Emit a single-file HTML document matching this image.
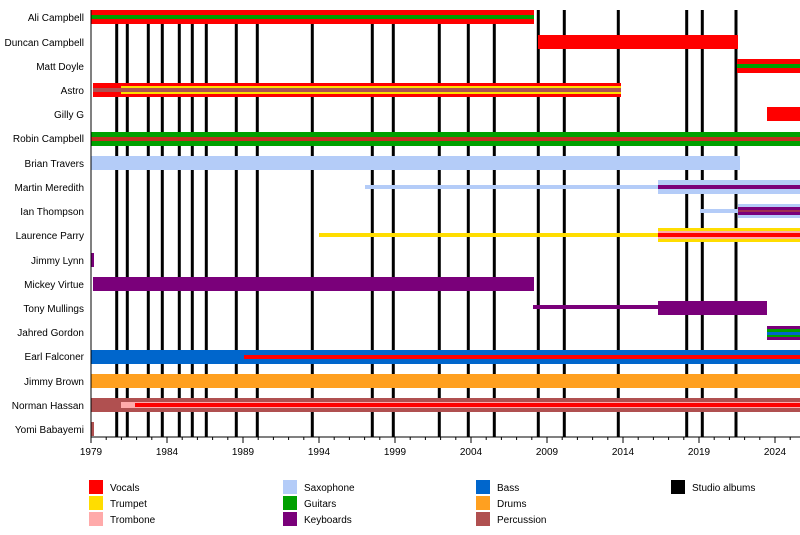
<!DOCTYPE html>
<html><head><meta charset="utf-8"><style>
html,body{margin:0;padding:0;background:#fff}
svg{display:block;font-family:"Liberation Sans",Arial,sans-serif}
</style></head><body>
<svg width="800" height="535" viewBox="0 0 800 535" xmlns="http://www.w3.org/2000/svg">
<g stroke="#000" stroke-width="3">
<line x1="116.7" y1="10" x2="116.7" y2="437"/><line x1="127.3" y1="10" x2="127.3" y2="437"/>
<line x1="148.3" y1="10" x2="148.3" y2="437"/><line x1="162.3" y1="10" x2="162.3" y2="437"/>
<line x1="179.3" y1="10" x2="179.3" y2="437"/><line x1="192.3" y1="10" x2="192.3" y2="437"/>
<line x1="206.3" y1="10" x2="206.3" y2="437"/><line x1="236.3" y1="10" x2="236.3" y2="437"/>
<line x1="257.3" y1="10" x2="257.3" y2="437"/><line x1="312.3" y1="10" x2="312.3" y2="437"/>
<line x1="372.3" y1="10" x2="372.3" y2="437"/><line x1="393.3" y1="10" x2="393.3" y2="437"/>
<line x1="439.3" y1="10" x2="439.3" y2="437"/><line x1="468.3" y1="10" x2="468.3" y2="437"/>
<line x1="494.3" y1="10" x2="494.3" y2="437"/><line x1="538.3" y1="10" x2="538.3" y2="437"/>
<line x1="564.3" y1="10" x2="564.3" y2="437"/><line x1="618.3" y1="10" x2="618.3" y2="437"/>
<line x1="686.7" y1="10" x2="686.7" y2="437"/><line x1="702.3" y1="10" x2="702.3" y2="437"/>
<line x1="736" y1="10" x2="736" y2="437"/>
</g>
<rect x="91" y="10" width="443" height="14" fill="#f00"/><rect x="91" y="15" width="443" height="4" fill="#00a000"/>
<rect x="538" y="35" width="200" height="14" fill="#f00"/>
<rect x="737" y="59" width="63" height="14" fill="#f00"/><rect x="737" y="64" width="63" height="4" fill="#00a000"/>
<rect x="93" y="83" width="528" height="14" fill="#f00"/>
<rect x="93" y="88" width="28" height="4" fill="#b05050"/>
<rect x="121" y="86" width="500" height="8" fill="#ffdd00"/><rect x="121" y="88" width="500" height="4" fill="#b05050"/>
<rect x="767" y="107" width="33" height="14" fill="#f00"/>
<rect x="91" y="132" width="709" height="14" fill="#00a000"/><rect x="91" y="137" width="709" height="4" fill="#c03020"/>
<rect x="91" y="156" width="649" height="14" fill="#b4ccf8"/>
<rect x="365" y="185" width="293" height="4" fill="#b4ccf8"/>
<rect x="658" y="180" width="142" height="14" fill="#b4ccf8"/><rect x="658" y="185" width="142" height="4" fill="#7a007a"/>
<rect x="700" y="209" width="38" height="4" fill="#b4ccf8"/>
<rect x="738" y="204" width="62" height="14" fill="#b4ccf8"/><rect x="738" y="207" width="62" height="8" fill="#7a007a"/><rect x="738" y="210" width="62" height="2" fill="#a03050"/>
<rect x="319" y="233" width="339" height="4" fill="#ffdd00"/>
<rect x="658" y="228" width="142" height="14" fill="#ffdd00"/><rect x="658" y="231" width="142" height="8" fill="#ffaaaa"/><rect x="658" y="233" width="142" height="4" fill="#f00"/>
<rect x="91" y="253" width="3" height="14" fill="#7a007a"/>
<rect x="93" y="277" width="441" height="14" fill="#7a007a"/>
<rect x="533" y="305" width="125" height="4" fill="#7a007a"/>
<rect x="658" y="301" width="109" height="14" fill="#7a007a"/>
<rect x="767" y="326" width="33" height="14" fill="#7a007a"/><rect x="767" y="329" width="33" height="3" fill="#00a000"/><rect x="767" y="332" width="33" height="3" fill="#0066cc"/><rect x="767" y="335" width="33" height="2" fill="#00a000"/>
<rect x="91" y="350" width="709" height="14" fill="#0066cc"/><rect x="244" y="355" width="556" height="4" fill="#f00"/>
<rect x="91" y="374" width="709" height="14" fill="#ffa020"/>
<rect x="91" y="398" width="709" height="14" fill="#b05050"/>
<rect x="121" y="402" width="679" height="6" fill="#ffaaaa"/><rect x="135" y="403" width="665" height="4" fill="#f00"/>
<rect x="91" y="422" width="3" height="14" fill="#b05050"/>
<line x1="91" y1="10" x2="91" y2="437" stroke="#000" stroke-width="1"/>
<line x1="91" y1="437" x2="800" y2="437" stroke="#000" stroke-width="1"/>
<g stroke="#000" stroke-width="1">
<line x1="91" y1="437" x2="91" y2="443"/><line x1="167" y1="437" x2="167" y2="443"/><line x1="243" y1="437" x2="243" y2="443"/><line x1="319" y1="437" x2="319" y2="443"/><line x1="395" y1="437" x2="395" y2="443"/><line x1="471" y1="437" x2="471" y2="443"/><line x1="547" y1="437" x2="547" y2="443"/><line x1="623" y1="437" x2="623" y2="443"/><line x1="699" y1="437" x2="699" y2="443"/><line x1="775" y1="437" x2="775" y2="443"/>
</g>
<path stroke="#000" stroke-width="1" d="M106.2 437v3M121.4 437v3M136.6 437v3M151.8 437v3M182.2 437v3M197.4 437v3M212.6 437v3M227.8 437v3M258.2 437v3M273.4 437v3M288.6 437v3M303.8 437v3M334.2 437v3M349.4 437v3M364.6 437v3M379.8 437v3M410.2 437v3M425.4 437v3M440.6 437v3M455.8 437v3M486.2 437v3M501.4 437v3M516.6 437v3M531.8 437v3M562.2 437v3M577.4 437v3M592.6 437v3M607.8 437v3M638.2 437v3M653.4 437v3M668.6 437v3M683.8 437v3M714.2 437v3M729.4 437v3M744.6 437v3M759.8 437v3M790.2 437v3"/>
<g font-size="10" fill="#000" text-anchor="middle">
<text x="91" y="455">1979</text><text x="167" y="455">1984</text><text x="243" y="455">1989</text><text x="319" y="455">1994</text><text x="395" y="455">1999</text><text x="471" y="455">2004</text><text x="547" y="455">2009</text><text x="623" y="455">2014</text><text x="699" y="455">2019</text><text x="775" y="455">2024</text>
</g>
<g font-size="10" fill="#000" text-anchor="end">
<text x="84" y="21">Ali Campbell</text><text x="84" y="46">Duncan Campbell</text><text x="84" y="70">Matt Doyle</text><text x="84" y="94">Astro</text><text x="84" y="118">Gilly G</text><text x="84" y="142">Robin Campbell</text><text x="84" y="167">Brian Travers</text><text x="84" y="191">Martin Meredith</text><text x="84" y="215">Ian Thompson</text><text x="84" y="239">Laurence Parry</text><text x="84" y="264">Jimmy Lynn</text><text x="84" y="288">Mickey Virtue</text><text x="84" y="312">Tony Mullings</text><text x="84" y="336">Jahred Gordon</text><text x="84" y="360">Earl Falconer</text><text x="84" y="385">Jimmy Brown</text><text x="84" y="409">Norman Hassan</text><text x="84" y="433">Yomi Babayemi</text>
</g>
<rect x="89" y="480" width="14" height="14" fill="#f00"/><rect x="89" y="496" width="14" height="14" fill="#ffdd00"/><rect x="89" y="512" width="14" height="14" fill="#ffaaaa"/>
<rect x="283" y="480" width="14" height="14" fill="#b4ccf8"/><rect x="283" y="496" width="14" height="14" fill="#00a000"/><rect x="283" y="512" width="14" height="14" fill="#7a007a"/>
<rect x="476" y="480" width="14" height="14" fill="#0066cc"/><rect x="476" y="496" width="14" height="14" fill="#ffa020"/><rect x="476" y="512" width="14" height="14" fill="#b05050"/>
<rect x="671" y="480" width="14" height="14" fill="#000"/>
<g font-size="10" fill="#000">
<text x="110" y="491">Vocals</text><text x="110" y="507">Trumpet</text><text x="110" y="523">Trombone</text>
<text x="304" y="491">Saxophone</text><text x="304" y="507">Guitars</text><text x="304" y="523">Keyboards</text>
<text x="497" y="491">Bass</text><text x="497" y="507">Drums</text><text x="497" y="523">Percussion</text>
<text x="692" y="491">Studio albums</text>
</g>
</svg>
</body></html>
